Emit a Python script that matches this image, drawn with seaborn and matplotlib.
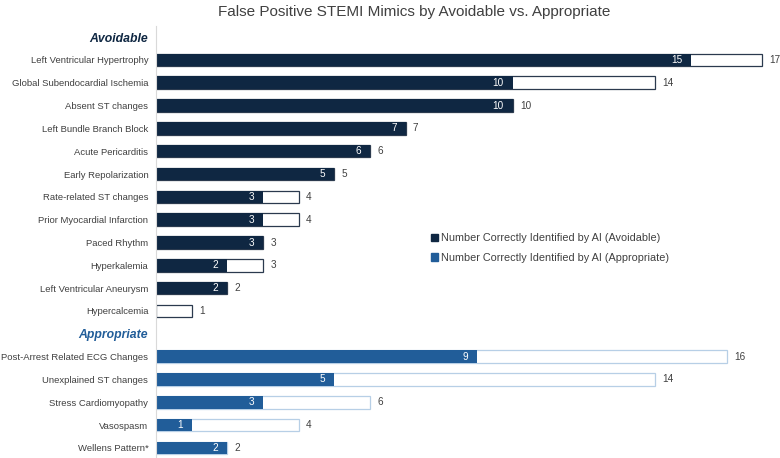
import matplotlib
matplotlib.use("Agg")
import matplotlib.pyplot as plt
from matplotlib.patches import Patch
import seaborn as sns
import pandas as pd
import numpy as np

sns.set_style("white")
plt.rcParams['font.family'] = ['Liberation Sans', 'DejaVu Sans']

title = "False Positive STEMI Mimics by Avoidable vs. Appropriate"
group_names = ["Avoidable", "Appropriate"]

avoid_cats = ["Left Ventricular Hypertrophy", "Global Subendocardial Ischemia", "Absent ST changes",
              "Left Bundle Branch Block", "Acute Pericarditis", "Early Repolarization",
              "Rate-related ST changes", "Prior Myocardial Infarction", "Paced Rhythm",
              "Hyperkalemia", "Left Ventricular Aneurysm", "Hypercalcemia"]
avoid_total = [17, 14, 10, 7, 6, 5, 4, 4, 3, 3, 2, 1]
avoid_correct = [15, 10, 10, 7, 6, 5, 3, 3, 3, 2, 2, 0]

approp_cats = ["Post-Arrest Related ECG Changes", "Unexplained ST changes", "Stress Cardiomyopathy",
               "Vasospasm", "Wellens Pattern*"]
approp_total = [16, 14, 6, 4, 2]
approp_correct = [9, 5, 3, 1, 2]

legend_labels = ["Number Correctly Identified by AI (Avoidable)",
                 "Number Correctly Identified by AI (Appropriate)"]

navy = "#0f2742"
blue = "#215d99"
navy_edge = "#2b3a4e"
blue_edge = "#b7cfe6"
text_gray = "#404040"

order = [group_names[0]] + avoid_cats + [group_names[1]] + approp_cats

df_av = pd.DataFrame({"cat": avoid_cats, "total": avoid_total, "correct": avoid_correct})
df_ap = pd.DataFrame({"cat": approp_cats, "total": approp_total, "correct": approp_correct})

fig = plt.figure(figsize=(7.8, 4.58), dpi=100)
ax = fig.add_axes([0.2, -0.003, 0.7866, 0.947])

bw = 0.55
sns.barplot(data=df_av, x="total", y="cat", order=order, orient="h", color="white",
            edgecolor=navy_edge, linewidth=0.9, width=bw, ax=ax, saturation=1)
sns.barplot(data=df_ap, x="total", y="cat", order=order, orient="h", color="white",
            edgecolor=blue_edge, linewidth=0.9, width=bw, ax=ax, saturation=1)
sns.barplot(data=df_av, x="correct", y="cat", order=order, orient="h", color=navy,
            linewidth=0, width=bw, ax=ax, saturation=1)
sns.barplot(data=df_ap, x="correct", y="cat", order=order, orient="h", color=blue,
            linewidth=0, width=bw, ax=ax, saturation=1)

pos = {c: i for i, c in enumerate(order)}
for df in (df_av, df_ap):
    for c, t, k in zip(df["cat"], df["total"], df["correct"]):
        y = pos[c]
        ax.text(t + 0.2, y, str(t), va="center", ha="left", fontsize=7.2, color=text_gray,
                clip_on=False)
        if k > 0:
            ax.text(k - 0.25, y, str(k), va="center", ha="right", fontsize=7.2, color="white")

ax.set_xlim(0, 17.2)
ax.set_ylim(len(order) - 0.5, -0.5)
ax.set_xlabel("")
ax.set_ylabel("")
ax.set_xticks([])
ax.set_yticks(range(len(order)))
ax.set_yticklabels(order)
ax.tick_params(axis="y", length=0, pad=5.5, labelsize=6.8, labelcolor=text_gray)
for lbl in ax.get_yticklabels():
    if lbl.get_text() == group_names[0]:
        lbl.set_fontweight("bold"); lbl.set_fontstyle("italic"); lbl.set_color(navy); lbl.set_fontsize(8.8)
    elif lbl.get_text() == group_names[1]:
        lbl.set_fontweight("bold"); lbl.set_fontstyle("italic"); lbl.set_color(blue); lbl.set_fontsize(8.8)

for s in ["top", "right", "bottom"]:
    ax.spines[s].set_visible(False)
ax.spines["left"].set_color("#d9d9d9")
ax.spines["left"].set_linewidth(0.8)

handles = [Patch(facecolor=navy, edgecolor=navy), Patch(facecolor=blue, edgecolor=blue)]
fig.legend(handles, legend_labels, loc="upper left", bbox_to_anchor=(0.54, 0.5115),
           frameon=False, fontsize=7.8, handlelength=0.65, handleheight=0.65,
           handletextpad=0.3, labelspacing=0.85, labelcolor=text_gray)

fig.text(0.531, 0.988, title, ha="center", va="top", fontsize=11, color=text_gray)

fig.savefig("out.png", dpi=100)
